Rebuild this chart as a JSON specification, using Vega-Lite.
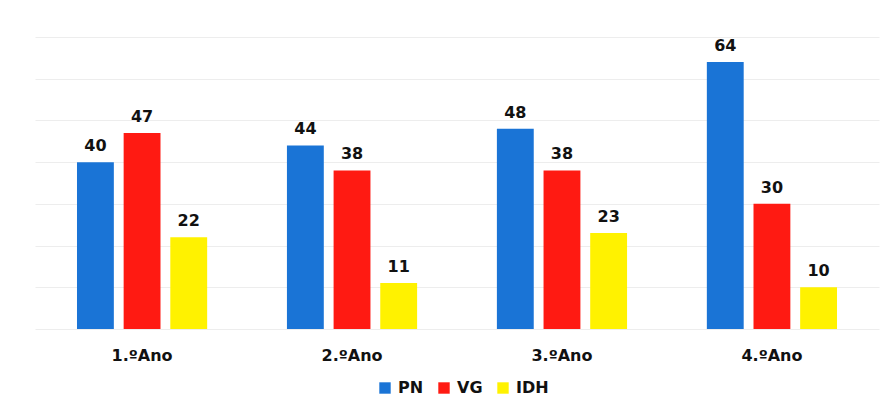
{
  "$schema": "https://vega.github.io/schema/vega-lite/v6.json",
  "width": 844,
  "height": 292,
  "padding": {"left": 35, "top": 37, "right": 11, "bottom": 0},
  "background": "white",
  "config": {
    "view": {"stroke": null},
    "font": "DejaVu Sans"
  },
  "data": {
    "values": [
      {"ano": "1.ºAno", "serie": "PN", "valor": 40},
      {"ano": "1.ºAno", "serie": "VG", "valor": 47},
      {"ano": "1.ºAno", "serie": "IDH", "valor": 22},
      {"ano": "2.ºAno", "serie": "PN", "valor": 44},
      {"ano": "2.ºAno", "serie": "VG", "valor": 38},
      {"ano": "2.ºAno", "serie": "IDH", "valor": 11},
      {"ano": "3.ºAno", "serie": "PN", "valor": 48},
      {"ano": "3.ºAno", "serie": "VG", "valor": 38},
      {"ano": "3.ºAno", "serie": "IDH", "valor": 23},
      {"ano": "4.ºAno", "serie": "PN", "valor": 64},
      {"ano": "4.ºAno", "serie": "VG", "valor": 30},
      {"ano": "4.ºAno", "serie": "IDH", "valor": 10}
    ]
  },
  "encoding": {
    "x": {
      "field": "ano", "type": "nominal", "title": null,
      "scale": {"paddingInner": 0.38, "paddingOuter": 0.2},
      "axis": {"labelAngle": 0, "domain": false, "ticks": false, "grid": false, "labelFont": "DejaVu Sans", "labelFontWeight": "bold", "labelFontSize": 16, "labelColor": "#111", "labelPadding": 18}
    },
    "xOffset": {"field": "serie", "type": "nominal", "sort": ["PN", "VG", "IDH"], "scale": {"paddingInner": 0.21}},
    "y": {
      "field": "valor", "type": "quantitative", "title": null,
      "scale": {"domain": [0, 70], "nice": false},
      "axis": {"values": [0, 10, 20, 30, 40, 50, 60, 70], "labels": false, "domain": false, "ticks": false, "grid": true, "gridColor": "#ededed", "gridWidth": 1}
    },
    "color": {
      "field": "serie", "type": "nominal", "sort": ["PN", "VG", "IDH"],
      "scale": {"domain": ["PN", "VG", "IDH"], "range": ["#1a74d6", "#ff1a12", "#fff200"]},
      "legend": {"orient": "none", "legendX": 342, "legendY": 343, "direction": "horizontal", "title": null, "symbolType": "square", "symbolSize": 130, "symbolStrokeWidth": 0, "labelFont": "DejaVu Sans", "labelFontWeight": "bold", "labelFontSize": 16, "labelColor": "#111", "columnPadding": 12, "labelOffset": 5}
    }
  },
  "layer": [
    {"mark": {"type": "bar"}},
    {
      "mark": {"type": "text", "dy": -16, "font": "DejaVu Sans", "fontWeight": "bold", "fontSize": 16, "color": "#111"},
      "encoding": {"text": {"field": "valor", "type": "quantitative"}, "color": {"value": "#111"}}
    }
  ]
}
